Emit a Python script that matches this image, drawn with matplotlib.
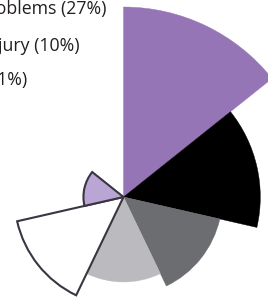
import numpy as np
import matplotlib
matplotlib.use("Agg")
import matplotlib.pyplot as plt

# sector values (percent), clockwise from 12 o'clock
values = [27, 14, 7.3, 5.4, 8.9, 1.2]
colors = ['#9675b6', '#000000', '#6c6d70', '#bbbbbf', '#ffffff', '#b9a6d4']
edges = [None, None, None, None, '#3a3540', '#3a3540']
n_slots = 7

# legend lines (cropped at left edge in the reference)
labels = ['Mental health problems (27%)', 'Injury (10%)', 'Other (1%)']
label_x = [107, 80, 27]
label_y = [9, 46, 80]

W, H = 268, 304
fig = plt.figure(figsize=(W / 100, H / 100), dpi=100)

# polar axes centred on the rose centre
cx, cy, half = 123.5, 197, 200
ax = fig.add_axes([(cx - half) / W, (H - cy - half) / H, 2 * half / W, 2 * half / H],
                  projection='polar')
ax.set_theta_zero_location('N')
ax.set_theta_direction(-1)

width = 2 * np.pi / n_slots
theta = np.arange(len(values)) * width
radii = np.sqrt(values)
for t, r, c, e in zip(theta, radii, colors, edges):
    if e is None:
        ax.bar(t, r, width=width, align='edge', color=c, edgecolor=c, linewidth=0.3)
    else:
        ax.bar(t, r, width=width, align='edge', color=c, edgecolor=e, linewidth=1.5)

ax.set_ylim(0, np.sqrt(27) * half / 190)
ax.set_axis_off()

for s, x, y in zip(labels, label_x, label_y):
    fig.text(x / W, 1 - y / H, s, ha='right', va='center', fontsize=12.8,
             family='Open Sans', color='#231f20')

fig.savefig('out.png', dpi=100)
